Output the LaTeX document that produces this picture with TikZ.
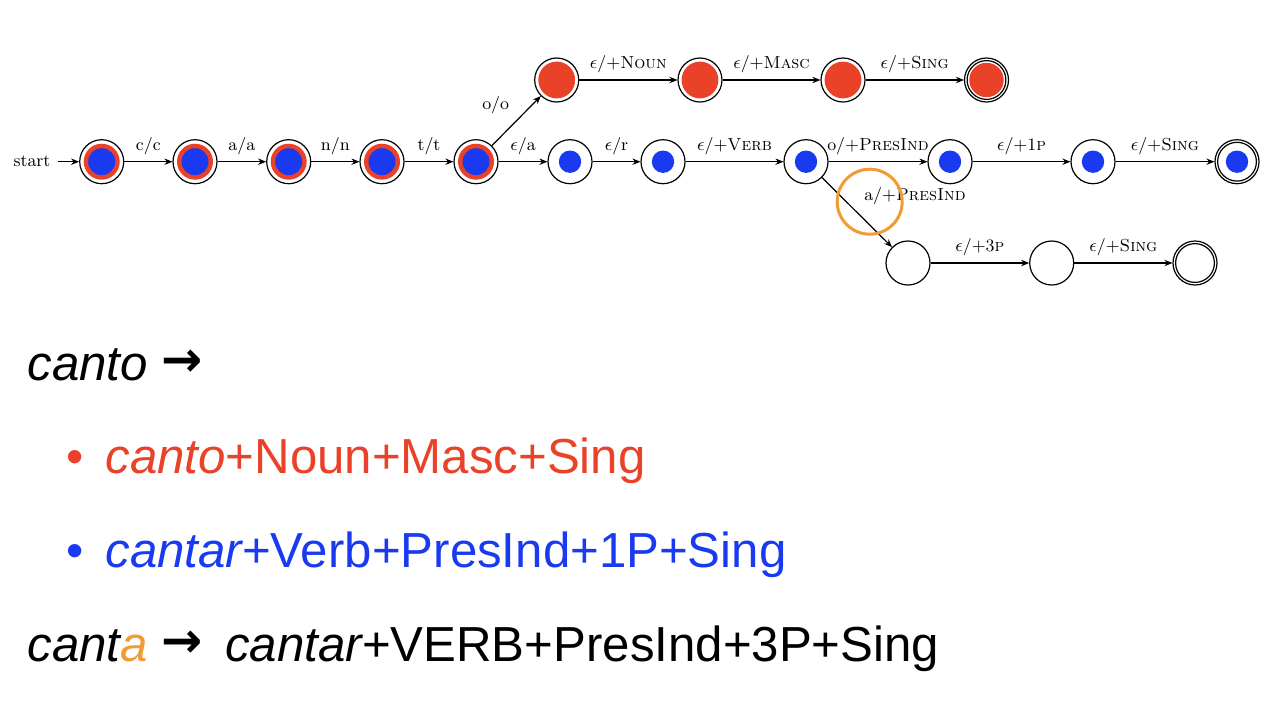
\documentclass[tikz,border=0pt]{standalone}
\usepackage{fontspec}
\usetikzlibrary{arrows.meta}
\newfontfamily\slidefont{Liberation Sans}
\newfontfamily\arrowfont{DejaVu Sans}
\newcommand{\sliderarrow}{\raisebox{2pt}{\arrowfont\bfseries →}}
\definecolor{cred}{HTML}{EA4129}
\definecolor{cblue}{HTML}{1A3AF2}
\definecolor{corange}{HTML}{F29A33}
\begin{document}
\begin{tikzpicture}[x=0.5pt,y=-0.5pt,
  lbl/.style={font=\fontsize{8.7}{10}\selectfont},
  state/.style={circle,draw,line width=0.6pt,minimum size=22pt,inner sep=0pt},
  rbstate/.style={state,path picture={
      \fill[cred] (path picture bounding box.center) circle (9pt);
      \fill[cblue] (path picture bounding box.center) circle (6.75pt);}},
  rstate/.style={state,path picture={
      \fill[cred] (path picture bounding box.center) circle (9.2pt);}},
  bstate/.style={state,path picture={
      \fill[cblue] (path picture bounding box.center) circle (5.6pt);}},
  rfinal/.style={state,path picture={
      \fill[cred] (path picture bounding box.center) circle (8.6pt);
      \draw[line width=0.6pt] (path picture bounding box.center) circle (9.7pt);}},
  bfinal/.style={state,path picture={
      \fill[cblue] (path picture bounding box.center) circle (5.6pt);
      \draw[line width=0.6pt] (path picture bounding box.center) circle (9.7pt);}},
  efinal/.style={state,path picture={
      \draw[line width=0.6pt] (path picture bounding box.center) circle (9.7pt);}},
  trans/.style={line width=0.6pt,-{Stealth[length=4pt,width=3.2pt]}},
  slide/.style={font=\slidefont\fontsize{24.6}{28}\selectfont,inner sep=0pt,anchor=base west}
]
\useasboundingbox (0,0) rectangle (1272,702);

% prefix shared by both analyses
\node[lbl] (start) at (32,161.7) {start};
\node[rbstate] (q0) at (101.7,161.7) {};
\node[rbstate] (q1) at (195,161.7) {};
\node[rbstate] (q2) at (288.7,161.7) {};
\node[rbstate] (q3) at (382,161.7) {};
\node[rbstate] (q4) at (476,161.7) {};

% noun branch
\node[rstate] (n1) at (556.7,80) {};
\node[rstate] (n2) at (700,80) {};
\node[rstate] (n3) at (843,80) {};
\node[rfinal] (n4) at (986.5,80) {};

% verb branch
\node[bstate] (v1) at (570,161.7) {};
\node[bstate] (v2) at (663,161.7) {};
\node[bstate] (v3) at (806,161.7) {};
\node[bstate] (v4) at (950,161.7) {};
\node[bstate] (v5) at (1093,161.7) {};
\node[bfinal] (v6) at (1237,161.7) {};

% third person branch
\node[state] (b1) at (908,263) {};
\node[state] (b2) at (1051.7,263) {};
\node[efinal] (b3) at (1195,263) {};

\draw[trans] (start) -- (q0);
\draw[trans] (q0) -- node[lbl,above] {c/c} (q1);
\draw[trans] (q1) -- node[lbl,above] {a/a} (q2);
\draw[trans] (q2) -- node[lbl,above] {n/n} (q3);
\draw[trans] (q3) -- node[lbl,above] {t/t} (q4);

\draw[trans] (q4) -- node[lbl,above left] {o/o} (n1);
\draw[trans] (n1) -- node[lbl,above] {$\epsilon$/+\textsc{Noun}} (n2);
\draw[trans] (n2) -- node[lbl,above] {$\epsilon$/+\textsc{Masc}} (n3);
\draw[trans] (n3) -- node[lbl,above] {$\epsilon$/+\textsc{Sing}} (n4);

\draw[trans] (q4) -- node[lbl,above] {$\epsilon$/a} (v1);
\draw[trans] (v1) -- node[lbl,above] {$\epsilon$/r} (v2);
\draw[trans] (v2) -- node[lbl,above] {$\epsilon$/+\textsc{Verb}} (v3);
\draw[trans] (v3) -- node[lbl,above] {o/+\textsc{PresInd}} (v4);
\draw[trans] (v4) -- node[lbl,above] {$\epsilon$/+1\textsc{p}} (v5);
\draw[trans] (v5) -- node[lbl,above] {$\epsilon$/+\textsc{Sing}} (v6);

\draw[trans] (v3) -- node[lbl,above right] {a/+\textsc{PresInd}} (b1);
\draw[trans] (b1) -- node[lbl,above] {$\epsilon$/+3\textsc{p}} (b2);
\draw[trans] (b2) -- node[lbl,above] {$\epsilon$/+\textsc{Sing}} (b3);

% highlight on the ambiguous transition
\node[circle,draw=corange,line width=1.5pt,minimum size=32.5pt,inner sep=0pt] (hl) at (869.7,201.7) {};

% analyses below
\node[slide] (l1) at (27,380) {\itshape canto \upshape\sliderarrow};
\node[slide,text=cred] (d1) at (66,473) {•};
\node[slide,text=cred] (l2) at (105,473) {\itshape canto\upshape+Noun+Masc+Sing};
\node[slide,text=cblue] (d2) at (66,567) {•};
\node[slide,text=cblue] (l3) at (105,567) {\itshape cantar\upshape+Verb+PresInd+1P+Sing};
\node[slide] (l4) at (27,661) {\itshape cant\textcolor{corange}{a} \upshape\sliderarrow{}\hspace{4.5pt} \itshape cantar\upshape+VERB+PresInd+3P+Sing};
\end{tikzpicture}
\end{document}
